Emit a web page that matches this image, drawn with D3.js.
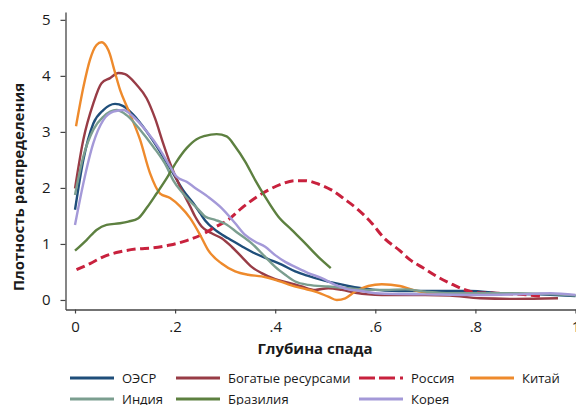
<!DOCTYPE html>
<html><head><meta charset="utf-8">
<script src="https://cdn.jsdelivr.net/npm/d3@7"></script>
<style>
html,body{margin:0;padding:0;background:#fff;}
svg{display:block;}
text{font-family:"Open Sans",sans-serif;fill:#1a1a1a;}
</style></head>
<body>
<svg id="chart" width="576" height="405"></svg>
<script>
// ---- data (x = глубина спада, y = плотность) ----
const seriesNames = ["ОЭСР","Богатые ресурсами","Россия","Китай","Индия","Бразилия","Корея"];
const xTicks = [0,0.2,0.4,0.6,0.8,1];
const yTicks = [0,1,2,3,4,5];

const oecd = [[0,1.61],[0.0166,2.5],[0.0366,3.15],[0.0565,3.39],[0.080,3.50],[0.0965,3.46],[0.123,3.24],[0.150,2.92],[0.176,2.56],[0.196,2.26],[0.216,1.96],[0.236,1.73],[0.250,1.55],[0.260,1.42],[0.280,1.25],[0.306,1.10],[0.333,0.96],[0.360,0.83],[0.386,0.73],[0.413,0.63],[0.440,0.51],[0.466,0.43],[0.493,0.36],[0.520,0.30],[0.546,0.25],[0.573,0.21],[0.600,0.18],[0.619,0.17],[0.675,0.16],[0.789,0.16],[0.85,0.12],[0.929,0.10],[1.0,0.07]];
const rich = [[0,1.99],[0.0166,2.86],[0.0366,3.51],[0.053,3.87],[0.070,3.96],[0.0865,4.05],[0.100,4.03],[0.123,3.84],[0.143,3.60],[0.160,3.24],[0.176,2.80],[0.190,2.44],[0.210,2.02],[0.230,1.67],[0.240,1.49],[0.253,1.31],[0.273,1.19],[0.293,1.10],[0.313,0.95],[0.333,0.77],[0.353,0.59],[0.373,0.48],[0.400,0.37],[0.426,0.31],[0.453,0.24],[0.480,0.18],[0.506,0.21],[0.533,0.18],[0.560,0.13],[0.586,0.10],[0.613,0.09],[0.70,0.09],[0.749,0.08],[0.809,0.03],[0.88,0.02],[0.965,0.03]];
const russia = [[0.003,0.54],[0.030,0.65],[0.0565,0.77],[0.090,0.86],[0.123,0.91],[0.156,0.93],[0.190,0.98],[0.223,1.06],[0.252,1.16],[0.280,1.30],[0.306,1.43],[0.333,1.64],[0.360,1.82],[0.386,1.96],[0.413,2.07],[0.440,2.13],[0.460,2.13],[0.486,2.07],[0.513,1.96],[0.540,1.79],[0.566,1.61],[0.593,1.37],[0.616,1.12],[0.649,0.88],[0.669,0.72],[0.696,0.57],[0.723,0.42],[0.749,0.30],[0.776,0.19],[0.803,0.13],[0.843,0.12],[0.889,0.10],[0.929,0.07]];
const china = [[0.002,3.10],[0.017,3.81],[0.030,4.29],[0.043,4.55],[0.053,4.60],[0.063,4.52],[0.070,4.38],[0.0765,4.17],[0.090,3.75],[0.1065,3.39],[0.130,2.86],[0.150,2.26],[0.170,1.90],[0.190,1.82],[0.210,1.67],[0.230,1.46],[0.250,1.16],[0.266,0.89],[0.293,0.65],[0.320,0.51],[0.346,0.45],[0.373,0.42],[0.400,0.36],[0.426,0.28],[0.453,0.21],[0.480,0.15],[0.506,0.06],[0.523,0.0],[0.540,0.03],[0.560,0.15],[0.586,0.25],[0.613,0.28],[0.649,0.25],[0.675,0.18],[0.703,0.13],[0.75,0.12],[0.809,0.12],[0.85,0.11]];
const india = [[0,1.875],[0.0166,2.56],[0.0366,3.04],[0.0565,3.27],[0.083,3.39],[0.103,3.30],[0.130,3.04],[0.156,2.74],[0.183,2.38],[0.196,2.14],[0.216,1.90],[0.230,1.76],[0.243,1.65],[0.260,1.49],[0.280,1.43],[0.300,1.36],[0.326,1.19],[0.353,1.01],[0.380,0.77],[0.400,0.59],[0.420,0.45],[0.440,0.33],[0.466,0.27],[0.506,0.24],[0.546,0.21],[0.586,0.18],[0.619,0.18],[0.66,0.19],[0.70,0.15],[0.75,0.12],[0.85,0.12],[0.93,0.11],[1.0,0.08]];
const brazil = [[0,0.88],[0.023,1.07],[0.043,1.25],[0.063,1.34],[0.090,1.37],[0.1065,1.40],[0.1265,1.46],[0.143,1.64],[0.163,1.90],[0.183,2.17],[0.203,2.47],[0.223,2.71],[0.243,2.87],[0.260,2.93],[0.283,2.96],[0.303,2.92],[0.320,2.74],[0.340,2.47],[0.360,2.14],[0.380,1.84],[0.406,1.49],[0.433,1.25],[0.460,1.01],[0.486,0.77],[0.511,0.57]];
const korea = [[0,1.34],[0.0166,2.08],[0.0366,2.80],[0.0565,3.21],[0.0765,3.36],[0.0965,3.39],[0.1165,3.27],[0.143,3.01],[0.170,2.68],[0.190,2.38],[0.203,2.20],[0.223,2.11],[0.240,2.00],[0.266,1.84],[0.293,1.64],[0.320,1.37],[0.340,1.16],[0.360,1.04],[0.380,0.95],[0.400,0.80],[0.420,0.68],[0.440,0.59],[0.466,0.48],[0.493,0.39],[0.520,0.27],[0.546,0.19],[0.573,0.16],[0.600,0.12],[0.619,0.11],[0.70,0.10],[0.80,0.09],[0.88,0.10],[0.95,0.12],[1.0,0.09]];

const seriesData = [oecd, rich, russia, china, india, brazil, korea];
const colors = ["#1f4e7a","#983c46","#c8213d","#ee8a2c","#7b9e8f","#5d8040","#a499d8"];
const dashed = [false,false,true,false,false,false,false];

// ---- scales ----
const svg = d3.select("#chart");
const x = d3.scaleLinear().domain([-0.019, 1.001]).range([65.5, 576]);
const y = d3.scaleLinear().domain([-0.17, 5.14]).range([309.5, 12]);

// ---- axes ----
const fmtX = d => d === 0 ? "0" : d === 1 ? "1" : d3.format(".1f")(d).replace(/^0/, "");
const gx = svg.append("g").attr("transform", "translate(0,309.5)")
  .call(d3.axisBottom(x).tickValues(xTicks).tickFormat(fmtX).tickSize(4).tickSizeOuter(0).tickPadding(8));
const gy = svg.append("g").attr("transform", "translate(65.5,0)")
  .call(d3.axisLeft(y).tickValues(yTicks).tickFormat(d3.format("d")).tickSize(5).tickSizeOuter(0).tickPadding(10));
[gx, gy].forEach(g => {
  g.select(".domain").attr("stroke", "#444").attr("stroke-width", 1.3);
  g.selectAll(".tick line").attr("stroke", "#444").attr("stroke-width", 1.2);
  g.selectAll(".tick text").style("font-size", "15px").style("font-family", "'Open Sans',sans-serif").attr("fill", "#1a1a1a");
});

svg.append("text").attr("x", 315).attr("y", 354).attr("text-anchor", "middle")
  .style("font-size", "15px").style("font-weight", "bold").text("Глубина спада");
svg.append("text").attr("transform", "translate(24,187) rotate(-90)").attr("text-anchor", "middle")
  .style("font-size", "15px").style("font-weight", "bold").text("Плотность распределения");

// ---- lines ----
const line = d3.line().x(d => x(d[0])).y(d => y(d[1])).curve(d3.curveMonotoneX);
seriesData.forEach((s, i) => {
  svg.append("path").datum(s).attr("d", line).attr("fill", "none")
    .attr("stroke", colors[i]).attr("stroke-width", dashed[i] ? 3 : 2.4)
    .attr("stroke-dasharray", dashed[i] ? "9,4.5" : null)
    .attr("stroke-linejoin", "round");
});

// ---- legend ----
const legendPos = [[70,378],[176,378],[359,378],[470,378],[70,399],[176,399],[359,399]];
seriesNames.forEach((n, i) => {
  const [lx, ly] = legendPos[i];
  svg.append("line").attr("x1", lx).attr("x2", lx + 44).attr("y1", ly).attr("y2", ly)
    .attr("stroke", colors[i]).attr("stroke-width", 3)
    .attr("stroke-dasharray", dashed[i] ? "16,4,16,5,3,40" : null);
  svg.append("text").attr("x", lx + 52).attr("y", ly).attr("dy", "0.35em")
    .style("font-size", "13px").text(n);
});
</script>
</body></html>
